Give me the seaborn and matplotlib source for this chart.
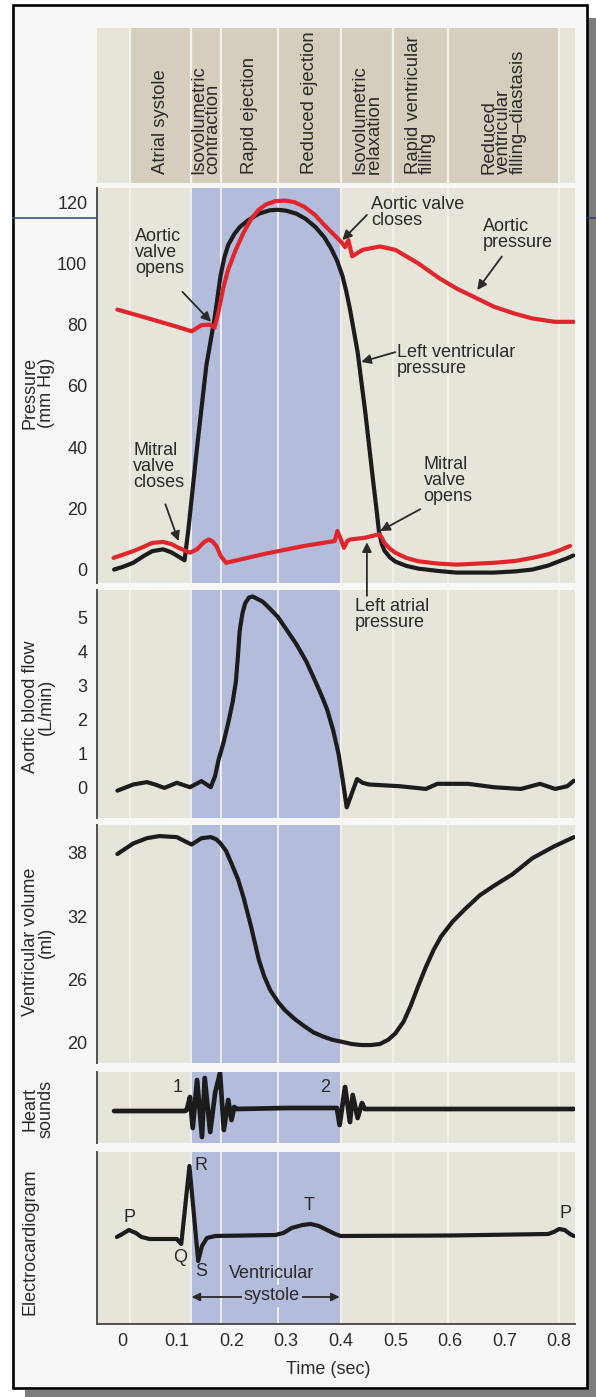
import matplotlib
matplotlib.use("Agg")
import matplotlib.pyplot as plt
import matplotlib.patches as mpatches
from matplotlib.lines import Line2D
import seaborn as sns

# ---- phases (sec) ----
phase_edges = [0.014, 0.125, 0.181, 0.285, 0.40, 0.496, 0.596, 0.80]
phase_names = ["Atrial systole", "Isovolumetric\ncontraction", "Rapid ejection",
               "Reduced ejection", "Isovolumetric\nrelaxation",
               "Rapid ventricular\nfilling", "Reduced\nventricular\nfilling\u2013diastasis"]
systole = (0.125, 0.40)

# ---- aortic pressure (mm Hg) ----
aortic_t = [-0.009, 0.05, 0.10, 0.127, 0.145, 0.16, 0.169, 0.176, 0.185, 0.194, 0.208,
            0.222, 0.236, 0.25, 0.263, 0.28, 0.298, 0.315, 0.333, 0.353, 0.37, 0.388,
            0.403, 0.408, 0.414, 0.421, 0.44, 0.472, 0.50, 0.542, 0.58, 0.612, 0.65,
            0.681, 0.72, 0.751, 0.792, 0.827]
aortic_p = [84.9, 81.9, 79.3, 77.8, 79.8, 80.0, 79.0, 84.0, 92.0, 98.0, 104.5,
            110.0, 114.5, 117.5, 119.2, 120.3, 120.5, 120.0, 118.5, 115.8, 112.5, 109.3,
            106.6, 105.3, 107.6, 102.3, 104.4, 105.5, 104.4, 100.0, 95.2, 91.8, 88.5,
            85.8, 83.5, 82.0, 80.9, 80.9]

# ---- left ventricular pressure (mm Hg) ----
lv_t = [-0.015, 0.0, 0.02, 0.04, 0.055, 0.075, 0.09, 0.105, 0.114, 0.121, 0.137, 0.154,
        0.169, 0.18, 0.187, 0.194, 0.205, 0.215, 0.23, 0.25, 0.27, 0.284, 0.30, 0.319,
        0.336, 0.354, 0.37, 0.382, 0.393, 0.403, 0.41, 0.417, 0.431, 0.445, 0.459, 0.466,
        0.470, 0.475, 0.48, 0.49, 0.50, 0.52, 0.542, 0.58, 0.612, 0.681, 0.72, 0.751,
        0.78, 0.80, 0.815, 0.826]
lv_p = [0.0, 0.8, 2.2, 4.5, 6.0, 6.6, 5.6, 4.0, 3.0, 13.0, 40.0, 66.7,
        82.0, 96.0, 102.0, 106.0, 109.5, 111.8, 114.0, 116.2, 117.3, 117.5, 117.2, 116.2,
        114.5, 111.8, 108.5, 105.0, 101.0, 96.0, 91.0, 85.0, 71.0, 51.4, 29.5, 19.0,
        12.5, 8.5, 6.2, 4.0, 2.6, 1.2, 0.3, -0.5, -1.0, -1.0, -0.6, 0.0,
        1.3, 2.7, 3.7, 4.6]

# ---- left atrial pressure (mm Hg) ----
la_t = [-0.016, 0.02, 0.04, 0.055, 0.075, 0.09, 0.103, 0.124, 0.137, 0.15, 0.159, 0.166,
        0.173, 0.18, 0.19, 0.263, 0.333, 0.389, 0.394, 0.40, 0.406, 0.412, 0.417, 0.445,
        0.470, 0.475, 0.48, 0.49, 0.50, 0.52, 0.542, 0.58, 0.612, 0.681, 0.72, 0.751,
        0.78, 0.797, 0.82]
la_p = [3.8, 6.0, 7.5, 8.7, 9.0, 8.3, 7.1, 5.5, 6.6, 9.0, 9.8, 9.0,
        7.5, 4.5, 2.2, 5.2, 7.7, 9.3, 12.6, 10.0, 7.1, 9.3, 9.8, 10.4,
        11.5, 10.5, 8.7, 6.8, 5.5, 3.8, 2.7, 1.9, 1.6, 2.2, 2.8, 3.8,
        5.0, 6.0, 7.7]

# ---- aortic blood flow (L/min) ----
flow_t = [-0.009, 0.02, 0.045, 0.06, 0.077, 0.1, 0.124, 0.145, 0.162, 0.17, 0.176, 0.185,
          0.194, 0.202, 0.208, 0.212, 0.215, 0.22, 0.225, 0.232, 0.239, 0.257, 0.27, 0.285,
          0.30, 0.319, 0.337, 0.354, 0.365, 0.375, 0.386, 0.396, 0.404, 0.411, 0.43, 0.44,
          0.452, 0.508, 0.556, 0.577, 0.633, 0.681, 0.73, 0.765, 0.793, 0.815, 0.827]
flow_v = [-0.08, 0.1, 0.17, 0.1, 0.0, 0.15, 0.02, 0.2, 0.02, 0.35, 0.8, 1.3,
          1.9, 2.5, 3.1, 3.9, 4.6, 5.1, 5.4, 5.57, 5.6, 5.45, 5.25, 5.0,
          4.65, 4.2, 3.7, 3.1, 2.7, 2.3, 1.7, 1.0, 0.2, -0.57, 0.26, 0.15,
          0.1, 0.05, -0.03, 0.12, 0.12, 0.02, -0.03, 0.12, -0.03, 0.05, 0.21]

# ---- ventricular volume (ml) ----
vol_t = [-0.009, 0.02, 0.045, 0.068, 0.1, 0.115, 0.127, 0.145, 0.162, 0.172, 0.18, 0.19,
         0.2, 0.212, 0.222, 0.236, 0.25, 0.26, 0.271, 0.285, 0.298, 0.315, 0.333, 0.35,
         0.368, 0.385, 0.403, 0.42, 0.438, 0.455, 0.472, 0.487, 0.5, 0.515, 0.528, 0.542,
         0.556, 0.57, 0.584, 0.605, 0.626, 0.655, 0.681, 0.715, 0.751, 0.79, 0.827]
vol_v = [37.9, 38.9, 39.4, 39.6, 39.5, 39.1, 38.8, 39.4, 39.5, 39.3, 38.9, 38.2,
         37.0, 35.5, 33.8, 31.0, 27.9, 26.3, 25.0, 23.9, 23.1, 22.3, 21.6, 21.0,
         20.6, 20.3, 20.1, 19.9, 19.8, 19.8, 19.9, 20.3, 20.9, 22.0, 23.5, 25.4,
         27.2, 28.8, 30.1, 31.5, 32.6, 34.0, 34.9, 36.0, 37.5, 38.6, 39.5]

# ---- heart sounds (arbitrary) ----
snd_t = [-0.015, 0.115, 0.118, 0.124, 0.129, 0.137, 0.146, 0.151, 0.161, 0.170, 0.179,
         0.186, 0.194, 0.2, 0.205, 0.21, 0.30, 0.39, 0.393, 0.398, 0.408, 0.417, 0.422,
         0.431, 0.439, 0.444, 0.6, 0.827]
snd_v = [-1, -1, 0, 13, -18, 30, -27, 32, -22, 17, 37,
         -20, 10, -10, 3, 1, 2, 2, 2, -15, 23, -12, 15,
         -8, 7, 1, 1, 1]

# ---- electrocardiogram (arbitrary) ----
ecg_t = [-0.01, 0.0, 0.012, 0.025, 0.035, 0.05, 0.1, 0.108, 0.123, 0.139, 0.146, 0.155,
         0.17, 0.28, 0.295, 0.31, 0.33, 0.345, 0.36, 0.375, 0.39, 0.40, 0.6, 0.78,
         0.79, 0.80, 0.81, 0.82, 0.827]
ecg_v = [-1, 2, 6, 3, -1, -3, -3, -8, 70, -25, -10, -2,
         0, 1, 3, 8, 11, 12, 10, 6, 2, 0, 0.5, 2,
         4, 7, 6, 2, 0]

time_ticks = [0, 0.1, 0.2, 0.3, 0.4, 0.5, 0.6, 0.7, 0.8]
time_labels = ["0", "0.1", "0.2", "0.3", "0.4", "0.5", "0.6", "0.7", "0.8"]

# ---- style ----
sns.set_style("white")
plt.rcParams["font.family"] = ["Liberation Sans", "DejaVu Sans"]

PANEL = "#e7e5d9"
TAN = "#d6cebc"
BLUE = "#b3bcdb"
WLINE = "#f3f3ee"
RED = "#e0262c"
BLACK = "#1c1c1c"
TXT = "#2a2a2a"
SPINE = "#505050"

W, H = 596, 1397
XLIM = (-0.0463, 0.8291)
fig = plt.figure(figsize=(W / 100, H / 100), dpi=100)
fig.patch.set_facecolor("white")


def fx(x):
    return x / W


def fy(y):
    return 1 - y / H


def panel(top, bottom):
    return fig.add_axes([fx(97), fy(bottom), (575 - 97) / W, (bottom - top) / H])


# frame, shadow, stray slide lines
fig.patches.append(mpatches.Rectangle((fx(588), 0), fx(8), fy(18), transform=fig.transFigure,
                                      facecolor="#7d7d7d", lw=0, zorder=-3))
fig.patches.append(mpatches.Rectangle((fx(25), 0), fx(571), 7 / H, transform=fig.transFigure,
                                      facecolor="#7d7d7d", lw=0, zorder=-3))
fig.patches.append(mpatches.Rectangle((fx(12.5), fy(1388)), fx(574.5), 1383 / H,
                                      transform=fig.transFigure, facecolor="#f7f8f6",
                                      edgecolor="black", lw=1.9, zorder=-2))
fig.lines.append(Line2D([fx(13), fx(97)], [fy(218), fy(218)], transform=fig.transFigure,
                        color="#3a4f8f", lw=1.2))
fig.lines.append(Line2D([fx(588), fx(596)], [fy(218), fy(218)], transform=fig.transFigure,
                        color="#2d3f7a", lw=1.2))

# ---- header with phase names ----
axh = panel(28, 183)
axh.set_xlim(XLIM)
axh.set_ylim(0, 1)
axh.axis("off")
axh.axvspan(XLIM[0], XLIM[1], color=PANEL, lw=0)
for a, b, name in zip(phase_edges[:-1], phase_edges[1:], phase_names):
    axh.axvspan(a, b, color=TAN, lw=0)
    axh.text((a + b) / 2, 0.06, name, rotation=90, ha="center", va="bottom",
             multialignment="left", fontsize=13.3, color=TXT, linespacing=0.8)
for e in phase_edges:
    axh.axvline(e, color=WLINE, lw=1.6)


def style(ax, ylim, yticks):
    ax.set_facecolor(PANEL)
    ax.set_xlim(XLIM)
    ax.set_ylim(ylim)
    ax.axvspan(*systole, color=BLUE, lw=0, zorder=0)
    for e in phase_edges:
        ax.axvline(e, color=WLINE, lw=1.3, zorder=0.5)
    for s in ["top", "right", "bottom"]:
        ax.spines[s].set_visible(False)
    ax.spines["left"].set_color(SPINE)
    ax.spines["left"].set_linewidth(1.4)
    ax.set_yticks(yticks)
    ax.tick_params(axis="y", direction="in", length=8, width=1.2, color=SPINE,
                   labelsize=13, pad=7, labelcolor=TXT)
    ax.tick_params(axis="x", length=0)
    ax.set_xticks([])
    ax.set(xlabel=None, ylabel=None)


def curve(ax, t, v, color, lw=3):
    sns.lineplot(x=t, y=v, ax=ax, color=color, lw=lw, estimator=None, sort=False,
                 solid_joinstyle="round", solid_capstyle="round")


# ---- pressure ----
axp = panel(188, 583)
curve(axp, lv_t, lv_p, BLACK)
curve(axp, la_t, la_p, RED)
curve(axp, aortic_t, aortic_p, RED)
style(axp, (-4.4, 124.6), [0, 20, 40, 60, 80, 100, 120])

arrow = dict(arrowstyle="-|>", color=TXT, lw=1.3, mutation_scale=14, shrinkA=0, shrinkB=0)
notes = [
    ("Aortic\nvalve\nopens", (0.023, 111.5), (0.110, 90.7), (0.1625, 80.9)),
    ("Aortic valve\ncloses", (0.456, 122.0), (0.448, 115.8), (0.403, 107.6)),
    ("Aortic\npressure", (0.66, 114.8), (0.695, 102.2), (0.65, 91.3)),
    ("Left ventricular\npressure", (0.503, 73.5), (0.50, 71.0), (0.4376, 67.8)),
    ("Mitral\nvalve\ncloses", (0.020, 41.5), (0.079, 21.3), (0.103, 9.3)),
    ("Mitral\nvalve\nopens", (0.552, 37.0), (0.5456, 19.7), (0.4724, 12.6)),
]
for txt, pos, tail, head in notes:
    axp.text(pos[0], pos[1], txt, ha="left", va="top", fontsize=13, color=TXT,
             linespacing=0.92)
    axp.annotate("", xy=head, xytext=tail, arrowprops=arrow)

# ---- aortic flow ----
axf = panel(590, 818)
curve(axf, flow_t, flow_v, BLACK)
style(axf, (-0.88, 5.79), [0, 1, 2, 3, 4, 5])
axf.text(0.426, 5.55, "Left atrial\npressure", ha="left", va="top", fontsize=13,
         color=TXT, linespacing=0.92)
axf.annotate("", xy=(0.448, 8.9), xycoords=axp.transData, xytext=(0.448, 5.62),
             textcoords="data", arrowprops=arrow, annotation_clip=False)

# ---- ventricular volume ----
axv = panel(825, 1063)
curve(axv, vol_t, vol_v, BLACK)
style(axv, (18.1, 40.65), [20, 26, 32, 38])

# ---- heart sounds ----
axs = panel(1072, 1143)
curve(axs, snd_t, snd_v, BLACK, lw=3.4)
style(axs, (-33, 38), [])
axs.text(0.102, 23, "1", ha="center", va="center", fontsize=13, color=TXT)
axs.text(0.371, 22, "2", ha="center", va="center", fontsize=13, color=TXT)

# ---- ECG ----
axe = panel(1152, 1324)
curve(axe, ecg_t, ecg_v, BLACK)
style(axe, (-88, 84), [])
axe.spines["bottom"].set_visible(True)
axe.spines["bottom"].set_color(SPINE)
axe.spines["bottom"].set_linewidth(1.4)
axe.set_xticks(time_ticks)
axe.set_xticklabels(time_labels)
axe.tick_params(axis="x", direction="in", length=10, width=1.2, color=SPINE,
                labelsize=13, pad=6.5, labelcolor=TXT)
for lab, x, y in [("P", 0.014, 19), ("P", 0.811, 23), ("R", 0.144, 71), ("Q", 0.106, -22),
                  ("S", 0.144, -36), ("T", 0.342, 31)]:
    axe.text(x, y, lab, ha="center", va="center", fontsize=13, color=TXT)
axe.text(0.274, -37, "Ventricular", ha="center", va="center", fontsize=13, color=TXT)
axe.annotate("", xy=(0.127, -61), xytext=(0.398, -61),
             arrowprops=dict(arrowstyle="<|-|>", color=TXT, lw=1.3, mutation_scale=12,
                             shrinkA=0, shrinkB=0))
axe.text(0.274, -60, "systole", ha="center", va="center", fontsize=13, color=TXT,
         bbox=dict(facecolor=BLUE, edgecolor="none", pad=1.5))

# ---- axis titles ----
for txt, y in [("Pressure\n(mm Hg)", 393), ("Aortic blood flow\n(L/min)", 707),
               ("Ventricular volume\n(ml)", 942), ("Heart\nsounds", 1109),
               ("Electrocardiogram", 1242)]:
    fig.text(fx(22), fy(y), txt, rotation=90, ha="left", va="center",
             multialignment="center", fontsize=13, color=TXT, linespacing=0.9)
fig.text(fx(328), fy(1369), "Time (sec)", ha="center", va="center", fontsize=13, color=TXT)

fig.savefig("out.png", dpi=100, facecolor=fig.get_facecolor())
